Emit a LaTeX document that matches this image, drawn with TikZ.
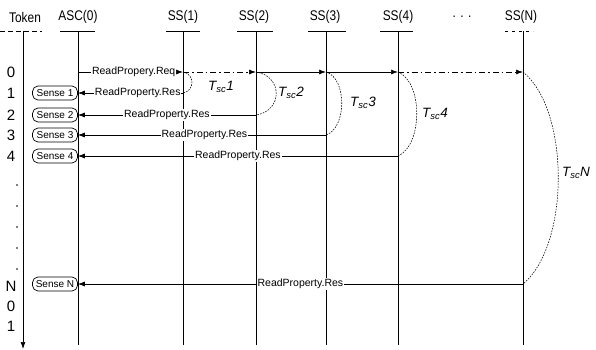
\documentclass[tikz,border=0pt]{standalone}
\usepackage{fontspec}
\setmainfont{Liberation Sans}
\newfontfamily\hdrfont[FakeStretch=0.85]{Liberation Sans}
\usetikzlibrary{arrows.meta}
\begin{document}
\begin{tikzpicture}[x=1pt,y=-1pt,
  hdr/.style={font=\hdrfont\fontsize{14}{14}\selectfont, inner sep=0pt},
  tok/.style={font=\fontsize{15}{15}\selectfont, inner sep=0pt},
  msg/.style={font=\fontsize{10.5}{10.5}\selectfont, fill=white, inner sep=0.8pt},
  sense/.style={draw, line width=0.7pt, rounded corners=5.5pt, minimum width=45pt, minimum height=14pt, inner sep=0.5pt, font=\fontsize{10}{10}\selectfont, fill=white},
  life/.style={line width=0.75pt},
  headline/.style={line width=0.7pt},
  arr/.style={line width=0.7pt, -{Latex[length=7pt,width=5pt]}},
  dd/.style={dash pattern=on 6pt off 3pt on 1.5pt off 3pt},
  arcl/.style={dash pattern=on 1.6pt off 1.2pt, line width=0.55pt},
  tsc/.style={font=\fontsize{13.5}{13.5}\selectfont\itshape, inner sep=0pt}
]
\useasboundingbox (0,0) rectangle (596,350);

% headers
\node[hdr] (hTok) at (25,17) {Token};
\node[hdr] (hAsc) at (78,17) {ASC(0)};
\node[hdr] (hS1) at (183,17) {SS(1)};
\node[hdr] (hS2) at (254,17) {SS(2)};
\node[hdr] (hS3) at (325,17) {SS(3)};
\node[hdr] (hS4) at (398,17) {SS(4)};
\node[hdr] (hDots) at (462,17) {. . .};
\node[hdr] (hSN) at (521,17) {SS(N)};

% header lines
\draw[headline, dash pattern=on 5pt off 3pt] (0,31) -- (42,31);
\draw[headline] (60,31) -- (95,31);
\draw[headline] (166,31) -- (200,31);
\draw[headline] (237,31) -- (273,31);
\draw[headline] (308,31) -- (346,31);
\draw[headline] (380,31) -- (413,31);
\draw[headline, dash pattern=on 3pt off 4pt] (505,31) -- (533,31);

% lifelines
\coordinate (tokT) at (23,31);
\coordinate (tokB) at (23,349);
\draw[arr] (tokT) -- (tokB);
\coordinate (ascT) at (78,31);   \coordinate (ascB) at (78,345);
\coordinate (s1T) at (183,31);   \coordinate (s1B) at (183,345);
\coordinate (s2T) at (256,31);   \coordinate (s2B) at (256,345);
\coordinate (s3T) at (326,31);   \coordinate (s3B) at (326,345);
\coordinate (s4T) at (398,31);   \coordinate (s4B) at (398,345);
\coordinate (sNT) at (523,31);   \coordinate (sNB) at (523,345);
\foreach \a/\b in {ascT/ascB,s1T/s1B,s2T/s2B,s3T/s3B,s4T/s4B,sNT/sNB}
  \draw[life] (\a) -- (\b);

% token numbers
\node[tok] (t0) at (11,72) {0};
\node[tok] (t1) at (11,93) {1};
\node[tok] (t2) at (11,115) {2};
\node[tok] (t3) at (11,135) {3};
\node[tok] (t4) at (11,156) {4};
\foreach \y in {185,206,227,248,269}
  \fill (17,\y) circle (0.8pt);
\node[tok] (tN) at (11,286) {N};
\node[tok] (t0b) at (11,306) {0};
\node[tok] (t1b) at (11,326) {1};

% points on lifelines
\coordinate (a0) at (78,72);
\coordinate (s1a) at (183,72);  \coordinate (s1b) at (183,93);
\coordinate (s2a) at (256,72);  \coordinate (s2b) at (256,115);
\coordinate (s3a) at (326,72);  \coordinate (s3b) at (326,135);
\coordinate (s4a) at (398,72);  \coordinate (s4b) at (398,156);
\coordinate (sNa) at (523,72);  \coordinate (sNb) at (523,284);

% sense boxes
\node[sense] (sn1) at (55,93) {Sense 1};
\node[sense] (sn2) at (55,115) {Sense 2};
\node[sense] (sn3) at (55,135) {Sense 3};
\node[sense] (sn4) at (55,156) {Sense 4};
\node[sense] (snN) at (55,284) {Sense N};

% requests
\draw[arr] (a0) -- node[msg, pos=0.53] {ReadPropery.Req} (s1a);
\draw[arr, dd] (s1a) -- (s2a);
\draw[arr] (s2a) -- (s3a);
\draw[arr] (s3a) -- (s4a);
\draw[arr, dd] (s4a) -- (sNa);

% responses
\draw[arr] (s1b) -- node[msg, pos=0.43] {ReadProperty.Res} (sn1.east);
\draw[arr] (s2b) -- node[msg, pos=0.50] {ReadProperty.Res} (sn2.east);
\draw[arr] (s3b) -- node[msg, pos=0.49] {ReadProperty.Res} (sn3.east);
\draw[arr] (s4b) -- node[msg, pos=0.50] {ReadProperty.Res} (sn4.east);
\draw[arr] (sNb) -- node[msg, pos=0.50] {ReadProperty.Res} (snN.east);

% service time arcs
\draw[arcl] (s1a) .. controls (195,74) and (195,91) .. (s1b);
\draw[arcl] (s2a) .. controls (283,76) and (283,111) .. (s2b);
\draw[arcl] (s3a) .. controls (347,78) and (347,128) .. (s3b);
\draw[arcl] (s4a) .. controls (423,82) and (423,145) .. (s4b);
\draw[arcl] (sNa) .. controls (570,110) and (570,245) .. (sNb);

% Tsc labels
\node[tsc] (ts1) at (221,87) {T\textsubscript{sc}1};
\node[tsc] (ts2) at (291,93) {T\textsubscript{sc}2};
\node[tsc] (ts3) at (363,103) {T\textsubscript{sc}3};
\node[tsc] (ts4) at (435,114) {T\textsubscript{sc}4};
\node[tsc] (tsN) at (576,173) {T\textsubscript{sc}N};
\end{tikzpicture}
\end{document}
